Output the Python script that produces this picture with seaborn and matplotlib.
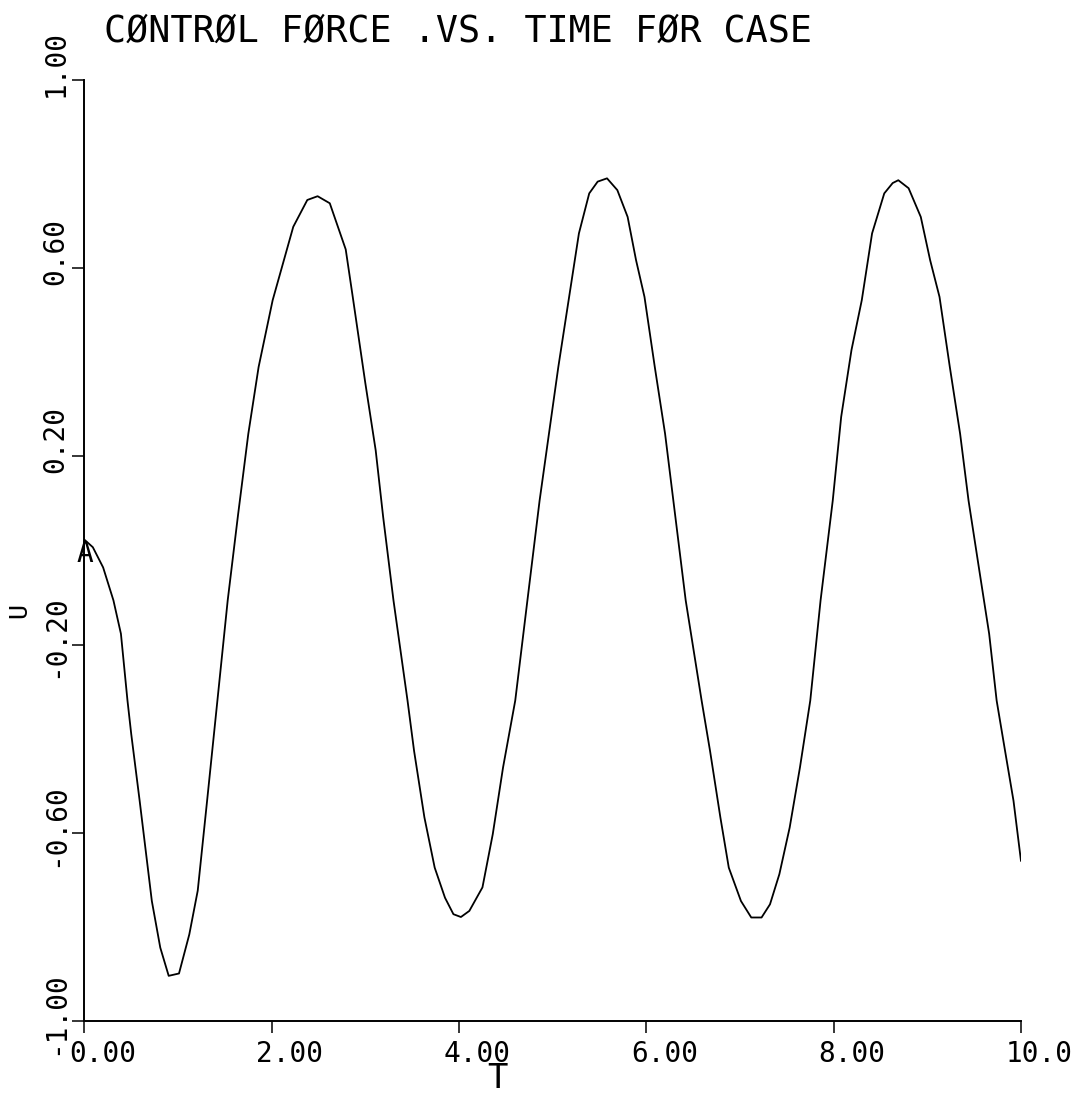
import matplotlib
matplotlib.use("Agg")
import matplotlib.pyplot as plt
import matplotlib.transforms as mtransforms
import pandas as pd
import seaborn as sns

# ---- data -------------------------------------------------------------
time_s = [
    0.00, 0.09, 0.20, 0.31, 0.39, 0.46, 0.50, 0.59, 0.72, 0.81,
    0.90, 1.01, 1.12, 1.21, 1.31, 1.42, 1.53, 1.64, 1.75, 1.86,
    2.01, 2.23, 2.38, 2.49, 2.62, 2.79, 2.86, 3.00, 3.11, 3.19,
    3.30, 3.45, 3.52, 3.63, 3.74, 3.85, 3.94, 4.02, 4.11, 4.25,
    4.36, 4.47, 4.60, 4.73, 4.86, 4.95, 5.06, 5.17, 5.28, 5.39,
    5.48, 5.58, 5.69, 5.80, 5.89, 5.98, 6.09, 6.20, 6.31, 6.42,
    6.59, 6.68, 6.79, 6.88, 7.01, 7.12, 7.23, 7.32, 7.42, 7.53,
    7.64, 7.75, 7.86, 7.99, 8.08, 8.19, 8.30, 8.41, 8.54, 8.63,
    8.69, 8.80, 8.93, 9.03, 9.13, 9.24, 9.35, 9.44, 9.55, 9.66,
    9.74, 9.83, 9.92, 10.00,
]
control_force = [
    0.023, 0.007, -0.036, -0.106, -0.177, -0.319, -0.390, -0.532, -0.745, -0.844,
    -0.904, -0.899, -0.816, -0.723, -0.532, -0.319, -0.106, 0.075, 0.248, 0.390,
    0.532, 0.688, 0.745, 0.753, 0.738, 0.640, 0.546, 0.355, 0.213, 0.071,
    -0.106, -0.319, -0.426, -0.567, -0.674, -0.738, -0.773, -0.779, -0.766, -0.716,
    -0.603, -0.461, -0.319, -0.106, 0.106, 0.234, 0.390, 0.532, 0.674, 0.759,
    0.784, 0.791, 0.766, 0.709, 0.617, 0.539, 0.390, 0.248, 0.071, -0.106,
    -0.319, -0.426, -0.567, -0.674, -0.745, -0.780, -0.780, -0.752, -0.688, -0.589,
    -0.461, -0.319, -0.106, 0.106, 0.284, 0.426, 0.532, 0.674, 0.759, 0.781,
    0.787, 0.770, 0.709, 0.617, 0.539, 0.390, 0.248, 0.106, -0.036, -0.177,
    -0.319, -0.426, -0.532, -0.660,
]

x_ticks = [0, 2, 4, 6, 8, 10]
x_tick_labels = ["0.00", "2.00", "4.00", "6.00", "8.00", "10.0"]
y_ticks = [1.0, 0.6, 0.2, -0.2, -0.6, -1.0]
y_tick_labels = ["1.00", "0.60", "0.20", "-0.20", "-0.60", "-1.00"]

title_text = "CØNTRØL FØRCE .VS. TIME FØR CASE"
x_label = "T"
y_label = "U"
curve_tag = "A"

# ---- style ------------------------------------------------------------
sns.set_theme(style="white")
plt.rcParams["font.family"] = ["DejaVu Sans Mono", "DejaVu Sans"]

DPI = 100
W, H = 1080, 1096
fig = plt.figure(figsize=(W / DPI, H / DPI), dpi=DPI)
fig.patch.set_facecolor("white")

# plot frame: T = 0..10 spans x 84..1021 px, U = -1..1 spans y 1021..80 px
ax = fig.add_axes([84.4 / W, 1 - 1021 / H, (1021 - 84.4) / W, (1021 - 80) / H])
ax.set_facecolor("white")

df = pd.DataFrame({"T": time_s, "U": control_force})
sns.lineplot(data=df, x="T", y="U", ax=ax, color="black", linewidth=1.3,
             sort=False, estimator=None)

ax.set_xlim(0, 10)
ax.set_ylim(-1, 1)
ax.set_xlabel("")
ax.set_ylabel("")
for side in ("top", "right"):
    ax.spines[side].set_visible(False)
for side in ("left", "bottom"):
    ax.spines[side].set_color("black")
    ax.spines[side].set_linewidth(1.4)

ax.set_xticks(x_ticks)
ax.set_yticks(y_ticks)
ax.tick_params(axis="both", direction="out", length=8.6, width=1.1,
               color="black", bottom=True, left=True,
               labelbottom=False, labelleft=False)

# ---- tick labels (plotter style) --------------------------------------
tick_fs = 20
adv_px = 0.602 * tick_fs * DPI / 72.0   # monospace character advance

for t, lab in zip(x_ticks, x_tick_labels):
    trans = ax.get_xaxis_transform() + mtransforms.ScaledTranslation(
        18 / DPI, -19 / DPI, fig.dpi_scale_trans)
    ax.text(t, 0, lab, transform=trans, ha="center", va="top",
            fontsize=tick_fs, color="black")

for v, lab in zip(y_ticks, y_tick_labels):
    k = lab.index(".")
    down = (k + 0.5) * adv_px - 8
    trans = ax.get_yaxis_transform() + mtransforms.ScaledTranslation(
        -21 / DPI, -down / DPI, fig.dpi_scale_trans)
    ax.text(0, v, lab, transform=trans, rotation=90, rotation_mode="anchor",
            ha="left", va="baseline", fontsize=tick_fs, color="black")

# curve identifier at the first point
ax.text(time_s[0], control_force[0], curve_tag, ha="center", va="top",
        fontsize=20, color="black", clip_on=False)

# ---- titles -------------------------------------------------------------
fig.text(104 / W, 1 - 42 / H, title_text, ha="left", va="baseline",
         fontsize=26.5, color="black")
fig.text(497 / W, 0.5 / H, x_label, ha="center", va="bottom",
         fontsize=24.5, color="black")
fig.text(19.5 / W, 1 - 611 / H, y_label, rotation=90, ha="center",
         va="center", fontsize=18, color="black")

fig.savefig("out.png", dpi=DPI, facecolor="white")
